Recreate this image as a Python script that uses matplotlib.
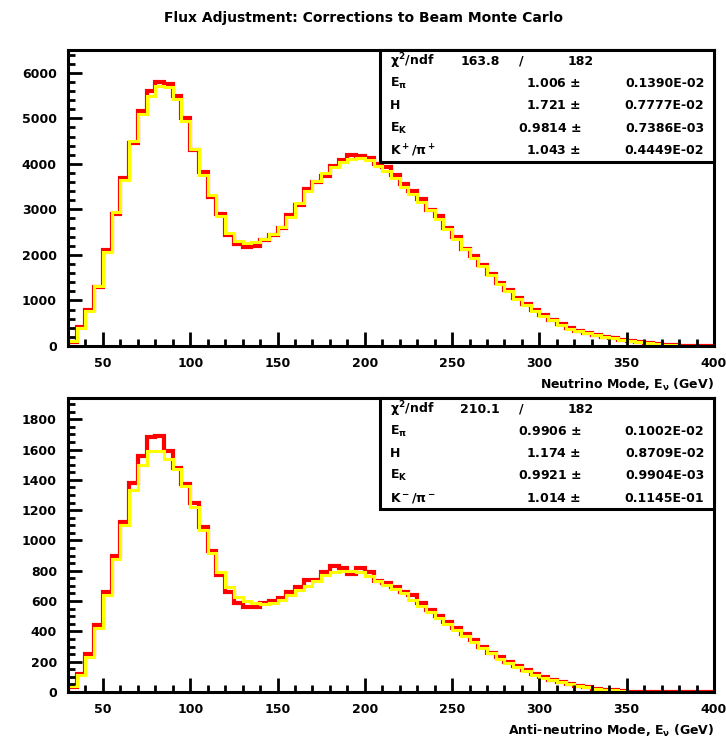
import numpy as np
import matplotlib
matplotlib.use("Agg")
import matplotlib.pyplot as plt
from matplotlib.ticker import MultipleLocator

plt.rcParams['font.family'] = ['DejaVu Sans']
plt.rcParams['font.weight'] = 'bold'
plt.rcParams['mathtext.default'] = 'bf'

# 5 GeV bins from 30 to 400 GeV
edges = np.arange(30, 401, 5)

# neutrino mode: beam MC after adjustment (yellow) and data (red)
nu_mc = [100, 400, 760, 1320, 2060, 2950, 3640, 4500, 5100, 5500,
         5700, 5690, 5420, 4950, 4330, 3750, 3310, 2860, 2480, 2300,
         2260, 2280, 2340, 2460, 2620, 2840, 3140, 3410, 3630, 3800,
         3940, 4050, 4100, 4130, 4080, 3960, 3850, 3680, 3500, 3330,
         3160, 2980, 2780, 2560, 2340, 2120, 1930, 1760, 1560, 1360,
         1200, 1040, 900, 770, 660, 560, 460, 380, 320, 280,
         240, 200, 170, 140, 110, 80, 55, 35, 20, 12,
         8, 5, 3, 2]
nu_data = [90, 420, 800, 1300, 2100, 2900, 3700, 4450, 5150, 5600,
           5790, 5760, 5480, 5000, 4300, 3820, 3280, 2900, 2440, 2230,
           2170, 2190, 2320, 2430, 2600, 2880, 3100, 3440, 3600, 3740,
           3960, 4080, 4190, 4180, 4120, 3990, 3920, 3760, 3560, 3410,
           3230, 2990, 2850, 2600, 2400, 2130, 1970, 1780, 1590, 1380,
           1230, 1050, 930, 790, 690, 570, 480, 390, 330, 280,
           250, 200, 180, 140, 110, 80, 60, 35, 22, 12,
           9, 5, 3, 2]

# anti-neutrino mode
nubar_mc = [40, 110, 230, 420, 640, 880, 1100, 1330, 1500, 1590,
            1590, 1540, 1470, 1360, 1220, 1070, 920, 790, 690, 630,
            600, 585, 580, 590, 610, 640, 670, 700, 735, 770,
            790, 800, 800, 790, 765, 735, 705, 680, 650, 610,
            570, 530, 490, 450, 410, 370, 330, 290, 255, 220,
            190, 165, 140, 115, 95, 78, 63, 50, 40, 30,
            22, 15, 10, 6, 3, 2, 1, 0, 0, 0,
            0, 0, 0, 0]
nubar_data = [30, 120, 250, 440, 660, 900, 1120, 1380, 1560, 1680,
              1690, 1590, 1480, 1370, 1250, 1090, 930, 770, 660, 590,
              560, 560, 590, 600, 620, 660, 690, 740, 740, 790,
              830, 820, 780, 820, 790, 730, 720, 690, 660, 640,
              590, 540, 500, 460, 420, 380, 340, 300, 260, 230,
              195, 170, 145, 120, 100, 80, 65, 52, 42, 30,
              22, 16, 10, 6, 3, 2, 1, 0, 0, 0,
              0, 0, 0, 0]

# fit results shown in the stat boxes
nu_chi2 = "163.8"
nubar_chi2 = "210.1"
ndf = "182"
nu_pars = [("E$_\\pi$", "1.006", "0.1390E-02"),
           ("H", "1.721", "0.7777E-02"),
           ("E$_K$", "0.9814", "0.7386E-03"),
           ("K$^+$/$\\pi^+$", "1.043", "0.4449E-02")]
nubar_pars = [("E$_\\pi$", "0.9906", "0.1002E-02"),
              ("H", "1.174", "0.8709E-02"),
              ("E$_K$", "0.9921", "0.9904E-03"),
              ("K$^-$/$\\pi^-$", "1.014", "0.1145E-01")]

W, H = 726, 740
fig = plt.figure(figsize=(W / 100, H / 100), dpi=100)

def axes_px(left, top, right, bottom):
    return fig.add_axes([left / W, 1 - bottom / H, (right - left) / W, (bottom - top) / H])

def draw_panel(ax, mc, data, ymax, ymajor, yminor, xlabel, chi2, pars):
    ax.stairs(data, edges, color='#ff0000', lw=3.0)
    ax.stairs(mc, edges, color='#ffff00', lw=2.2)
    ax.set_xlim(30, 400)
    ax.set_ylim(0, ymax)
    ax.xaxis.set_major_locator(MultipleLocator(50))
    ax.xaxis.set_minor_locator(MultipleLocator(10))
    ax.yaxis.set_major_locator(MultipleLocator(ymajor))
    ax.yaxis.set_minor_locator(MultipleLocator(yminor))
    ax.tick_params(which='both', direction='in', top=False, right=False,
                   width=2, labelsize=9)
    ax.tick_params(which='major', length=10, pad=8)
    ax.tick_params(which='minor', length=5)
    for s in ax.spines.values():
        s.set_linewidth(2.2)
    ax.set_xlabel(xlabel, loc='right', fontsize=9, fontweight='bold', labelpad=5)

    # stat box in the upper right corner
    x0, y0 = 0.483, 0.622
    ax.add_patch(plt.Rectangle((x0, y0), 1 - x0, 1 - y0, transform=ax.transAxes,
                               facecolor='white', edgecolor='black', lw=2.2,
                               zorder=5, clip_on=False))
    rows = 5
    dy = (1 - y0) / rows
    ty = 1 - dy * 0.5
    kw = dict(transform=ax.transAxes, fontsize=9, fontweight='bold',
              va='center', zorder=6)
    ax.text(x0 + 0.015, ty, "$\\chi^2$/ndf", ha='left', **kw)
    ax.text(x0 + 0.185, ty, chi2, ha='right', **kw)
    ax.text(x0 + 0.215, ty, "/", ha='left', **kw)
    ax.text(x0 + 0.33, ty, ndf, ha='right', **kw)
    for i, (name, val, err) in enumerate(pars):
        yy = ty - dy * (i + 1)
        ax.text(x0 + 0.015, yy, name, ha='left', **kw)
        ax.text(0.795, yy, val + " $\\pm$", ha='right', **kw)
        ax.text(0.985, yy, err, ha='right', **kw)

ax1 = axes_px(68, 50, 714, 346)
draw_panel(ax1, nu_mc, nu_data, 6500, 1000, 200,
           "Neutrino Mode, E$_\\nu$ (GeV)", nu_chi2, nu_pars)

ax2 = axes_px(68, 398, 714, 692)
draw_panel(ax2, nubar_mc, nubar_data, 1940, 200, 50,
           "Anti-neutrino Mode, E$_\\nu$ (GeV)", nubar_chi2, nubar_pars)

fig.text(0.5, 1 - 18 / H, "Flux Adjustment: Corrections to Beam Monte Carlo",
         ha='center', va='center', fontsize=10, fontweight='bold')

fig.savefig("out.png", dpi=100, facecolor='white')
